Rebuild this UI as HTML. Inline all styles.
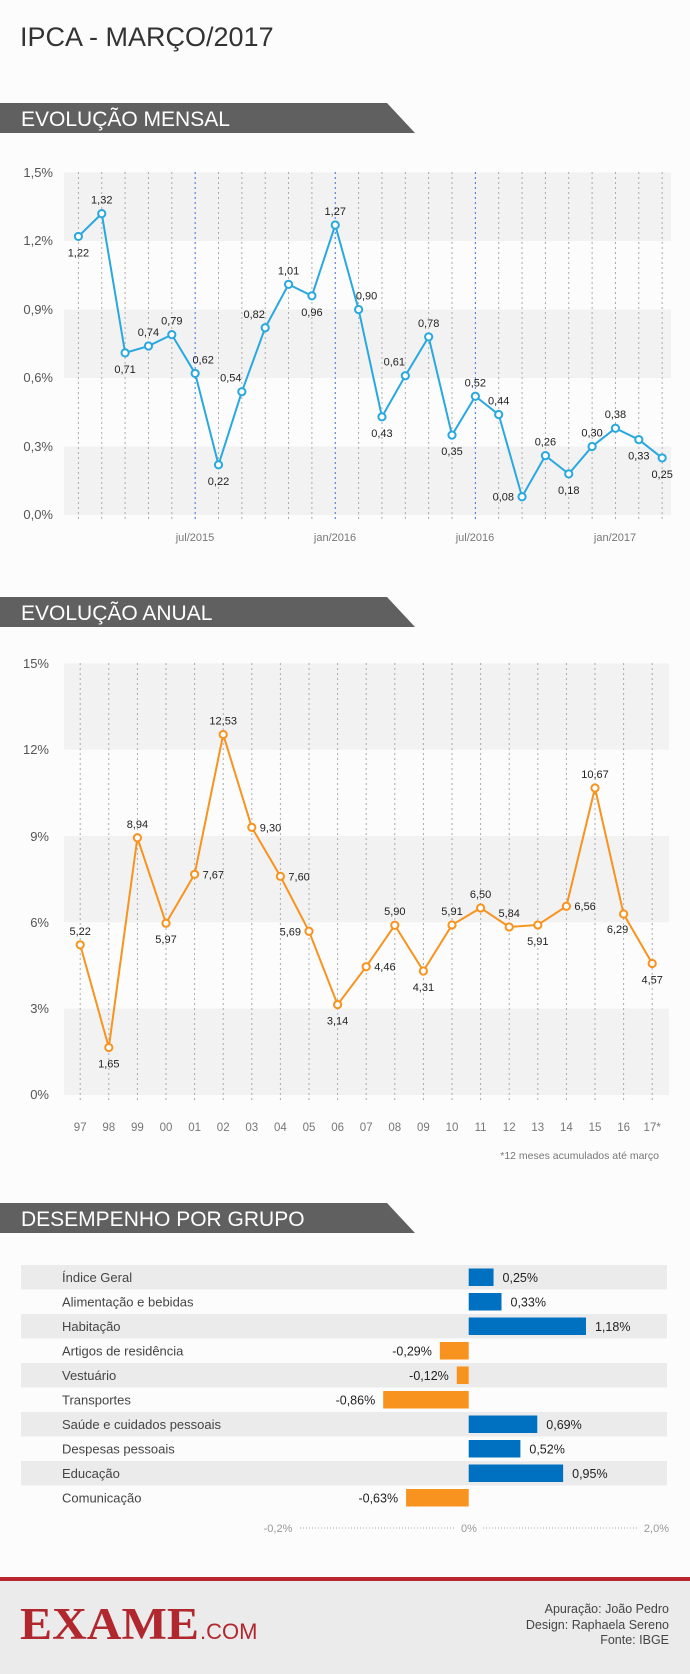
<!DOCTYPE html>
<html><head><meta charset="utf-8">
<style>
html,body{margin:0;padding:0;background:#fcfcfc;}
body{width:690px;height:1674px;overflow:hidden;position:relative;font-family:"Liberation Sans",sans-serif;}
svg{position:absolute;left:0;top:0;}
</style></head><body>
<svg width="690" height="1674" viewBox="0 0 690 1674" xmlns="http://www.w3.org/2000/svg" font-family="Liberation Sans, sans-serif">
<rect width="690" height="1674" fill="#fcfcfc"/>
<text x="20" y="46" font-size="27" fill="#333">IPCA - MARÇO/2017</text>

<polygon points="0,103 387,103 415,133 0,133" fill="#606060"/>
<text x="21" y="126" font-size="21" fill="#fff">EVOLUÇÃO MENSAL</text>

<g id="mensal">
<rect x="64" y="172.5" width="607" height="68.5" fill="#f2f2f2"/>
<rect x="64" y="309.5" width="607" height="68.5" fill="#f2f2f2"/>
<rect x="64" y="446.5" width="607" height="68.5" fill="#f2f2f2"/>
<g font-size="13" fill="#555" text-anchor="end">
<text x="53" y="177">1,5%</text><text x="53" y="245">1,2%</text><text x="53" y="314">0,9%</text>
<text x="53" y="382">0,6%</text><text x="53" y="451">0,3%</text><text x="53" y="519">0,0%</text>
</g>
<g id="mgrid"></g>
<g font-size="11" fill="#777" text-anchor="middle">
<text x="195" y="541">jul/2015</text><text x="335" y="541">jan/2016</text>
<text x="475" y="541">jul/2016</text><text x="615" y="541">jan/2017</text>
</g>
<g id="mline"></g>
</g>

<polygon points="0,597 387,597 415,627 0,627" fill="#606060"/>
<text x="21" y="620" font-size="21" fill="#fff">EVOLUÇÃO ANUAL</text>

<g id="anual">
<rect x="64" y="663.4" width="605" height="86.3" fill="#f2f2f2"/>
<rect x="64" y="836" width="605" height="86.3" fill="#f2f2f2"/>
<rect x="64" y="1008.6" width="605" height="86.4" fill="#f2f2f2"/>
<g font-size="13" fill="#555" text-anchor="end">
<text x="49" y="668">15%</text><text x="49" y="754">12%</text><text x="49" y="841">9%</text>
<text x="49" y="927">6%</text><text x="49" y="1013">3%</text><text x="49" y="1099">0%</text>
</g>
<g id="agrid"></g>
<g id="aline"></g>
<text x="659" y="1159" font-size="10.5" fill="#777" text-anchor="end">*12 meses acumulados até março</text>
</g>

<polygon points="0,1203 387,1203 415,1233 0,1233" fill="#606060"/>
<text x="21" y="1226" font-size="21" fill="#fff">DESEMPENHO POR GRUPO</text>
<g id="bars"></g>
<g font-size="11" fill="#999">
<text x="278" y="1532" text-anchor="middle">-0,2%</text>
<text x="469" y="1532" text-anchor="middle">0%</text>
<text x="669" y="1532" text-anchor="end">2,0%</text>
</g>
<line x1="300" y1="1528" x2="455" y2="1528" stroke="#aaa" stroke-dasharray="1,2"/>
<line x1="483" y1="1528" x2="638" y2="1528" stroke="#aaa" stroke-dasharray="1,2"/>

<rect x="0" y="1577" width="690" height="97" fill="#ebebeb"/>
<rect x="0" y="1577" width="690" height="4" fill="#b8262d"/>
<text x="20" y="1639" font-family="Liberation Serif, serif" font-weight="bold" font-size="45" fill="#b0282e" textLength="179" lengthAdjust="spacingAndGlyphs">EXAME</text>
<text x="200" y="1639" font-size="22" fill="#b0282e">.COM</text>
<g font-size="12.5" fill="#444" text-anchor="end">
<text x="669" y="1613">Apuração: João Pedro</text>
<text x="669" y="1629">Design: Raphaela Sereno</text>
<text x="669" y="1644">Fonte: IBGE</text>
</g>
</svg>
<script>
(function(){
var NS="http://www.w3.org/2000/svg";
function el(p,t,a,txt){var e=document.createElementNS(NS,t);for(var k in a)e.setAttribute(k,a[k]);if(txt!==undefined)e.textContent=txt;p.appendChild(e);return e;}
function fmt(v){return v.toFixed(2).replace('.',',');}
var mv=[1.22,1.32,0.71,0.74,0.79,0.62,0.22,0.54,0.82,1.01,0.96,1.27,0.90,0.43,0.61,0.78,0.35,0.52,0.44,0.08,0.26,0.18,0.30,0.38,0.33,0.25];
var mp=['b','a','b','a','a','ar','b','al','al','a','b','a','ar','b','al','a','b','a','a','l','a','b','a','a','b','b'];
var g=document.getElementById('mgrid'),L=document.getElementById('mline');
var pts=[];
for(var i=0;i<mv.length;i++){var x=78.4+i*23.35,y=515-mv[i]/1.5*342.5;pts.push([x,y]);
 var blue=(i==5||i==11||i==17);
 el(g,'line',{x1:x,y1:172,x2:x,y2:522,stroke:blue?'#3a6fd8':'#aaa','stroke-width':1,'stroke-dasharray':'2,3'});}
function draw(L,pts,vals,pos,col){
 el(L,'polyline',{points:pts.map(function(p){return p.join(',')}).join(' '),fill:'none',stroke:col,'stroke-width':2});
 for(var i=0;i<pts.length;i++){var x=pts[i][0],y=pts[i][1];
  el(L,'circle',{cx:x,cy:y,r:3.6,fill:'#fff',stroke:col,'stroke-width':2});
  var p=pos[i],tx=x,ty=y,an='middle';
  if(p=='a'){ty=y-14;}else if(p=='b'){ty=y+16;}else if(p=='r'){tx=x+8;an='start';}else if(p=='l'){tx=x-8;an='end';}
  else if(p=='ar'){tx=x+8;ty=y-14;}else if(p=='al'){tx=x-11;ty=y-14;}else if(p=='bl'){tx=x-6;ty=y+15;}
  el(L,'text',{x:tx,y:ty+4,'font-size':11,fill:'#222','text-anchor':an},fmt(vals[i]));}
}
draw(L,pts,mv,mp,'#29a8e0');
var av=[5.22,1.65,8.94,5.97,7.67,12.53,9.30,7.60,5.69,3.14,4.46,5.90,4.31,5.91,6.50,5.84,5.91,6.56,10.67,6.29,4.57];
var ap=['a','b','a','b','r','a','r','r','l','b','r','a','b','a','a','a','b','r','a','bl','b'];
var lb=['97','98','99','00','01','02','03','04','05','06','07','08','09','10','11','12','13','14','15','16','17*'];
var ag=document.getElementById('agrid'),AL=document.getElementById('aline');pts=[];
for(var i=0;i<av.length;i++){var x=80.2+i*28.6,y=1095-av[i]/15*431.6;pts.push([x,y]);
 el(ag,'line',{x1:x,y1:663,x2:x,y2:1103,stroke:'#aaa','stroke-width':1,'stroke-dasharray':'2,3'});
 el(ag,'text',{x:x,y:1131,'font-size':11.5,fill:'#777','text-anchor':'middle'},lb[i]);}
draw(AL,pts,av,ap,'#f7931e');
var names=['Índice Geral','Alimentação e bebidas','Habitação','Artigos de residência','Vestuário','Transportes','Saúde e cuidados pessoais','Despesas pessoais','Educação','Comunicação'];
var bv=[0.25,0.33,1.18,-0.29,-0.12,-0.86,0.69,0.52,0.95,-0.63];
var B=document.getElementById('bars');
for(var i=0;i<10;i++){var ty0=1265+i*24.5;
 if(i%2==0)el(B,'rect',{x:21,y:ty0,width:646,height:24.5,fill:'#ebebeb'});
 el(B,'text',{x:62,y:ty0+17,'font-size':13,fill:'#444'},names[i]);
 var w=Math.abs(bv[i])*99.4,z=468.7,v=fmt(bv[i])+'%';
 if(bv[i]>0){el(B,'rect',{x:z,y:ty0+3.5,width:w,height:17.5,fill:'#0070c0'});
  el(B,'text',{x:z+w+9,y:ty0+17,'font-size':12.5,fill:'#222'},v);}
 else{el(B,'rect',{x:z-w,y:ty0+3.5,width:w,height:17.5,fill:'#f7931e'});
  el(B,'text',{x:z-w-8,y:ty0+17,'font-size':12.5,fill:'#222','text-anchor':'end'},v);}
}
})();
</script>
</body></html>
